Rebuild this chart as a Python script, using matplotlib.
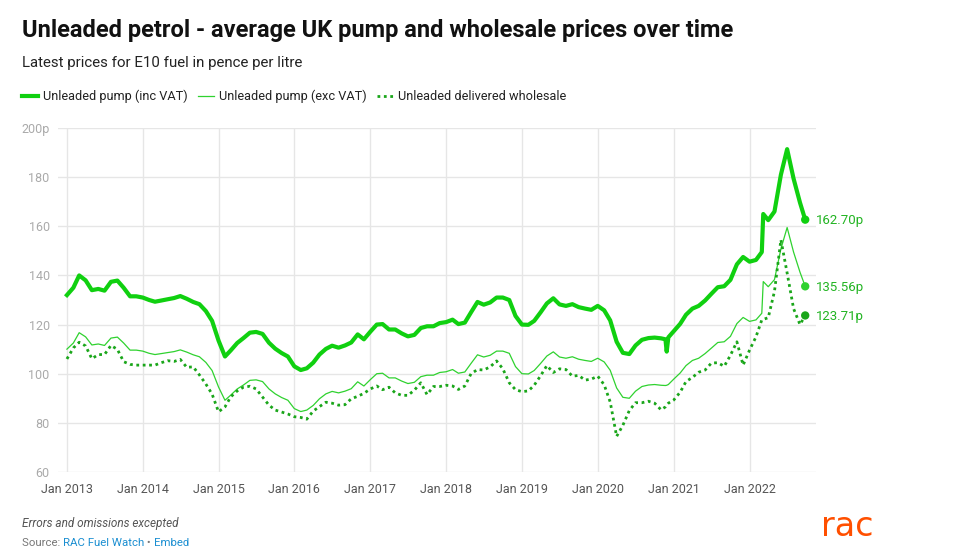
import pandas as pd
import matplotlib.pyplot as plt
from matplotlib.lines import Line2D

plt.rcParams['font.family'] = ['Roboto', 'DejaVu Sans']

# readings, mostly month starts plus a few sharp moves
dates = [
    '2013-01-01', '2013-02-01', '2013-03-01', '2013-04-01', '2013-05-01', '2013-06-01',
    '2013-07-01', '2013-08-01', '2013-09-01', '2013-10-01', '2013-11-01', '2013-12-01',
    '2014-01-01', '2014-02-01', '2014-03-01', '2014-04-01', '2014-05-01', '2014-06-01',
    '2014-07-01', '2014-08-01', '2014-09-01', '2014-10-01', '2014-11-01', '2014-12-01',
    '2015-01-01', '2015-02-01', '2015-03-01', '2015-04-01', '2015-05-01', '2015-06-01',
    '2015-07-01', '2015-08-01', '2015-09-01', '2015-10-01', '2015-11-01', '2015-12-01',
    '2016-01-01', '2016-02-01', '2016-03-01', '2016-04-01', '2016-05-01', '2016-06-01',
    '2016-07-01', '2016-08-01', '2016-09-01', '2016-10-01', '2016-11-01', '2016-12-01',
    '2017-01-01', '2017-02-01', '2017-03-01', '2017-04-01', '2017-05-01', '2017-06-01',
    '2017-07-01', '2017-08-01', '2017-09-01', '2017-10-01', '2017-11-01', '2017-12-01',
    '2018-01-01', '2018-02-01', '2018-03-01', '2018-04-01', '2018-05-01', '2018-06-01',
    '2018-07-01', '2018-08-01', '2018-09-01', '2018-10-01', '2018-11-01', '2018-12-01',
    '2019-01-01', '2019-02-01', '2019-03-01', '2019-04-01', '2019-05-01', '2019-06-01',
    '2019-07-01', '2019-08-01', '2019-09-01', '2019-10-01', '2019-11-01', '2019-12-01',
    '2020-01-01', '2020-02-01', '2020-03-01', '2020-04-01', '2020-05-01', '2020-06-01',
    '2020-07-01', '2020-08-01', '2020-09-01', '2020-10-01', '2020-11-01', '2020-11-22',
    '2020-11-28', '2020-12-06',
    '2021-01-01', '2021-02-01', '2021-03-01', '2021-04-01', '2021-05-01', '2021-06-01',
    '2021-07-01', '2021-08-01', '2021-09-01', '2021-10-01', '2021-11-01', '2021-12-01',
    '2022-01-01', '2022-02-01', '2022-03-01', '2022-03-08', '2022-04-01', '2022-05-01',
    '2022-06-01', '2022-07-01', '2022-08-01', '2022-09-01', '2022-09-26',
]

inc_vat = [
    132.0, 135.0, 140.0, 138.0, 134.0, 134.5, 133.8, 137.4, 137.9, 135.0, 131.5, 131.5,
    131.0, 130.0, 129.3, 129.8, 130.3, 130.8, 131.6, 130.5, 129.2, 128.3, 125.5, 121.5,
    113.5, 107.0, 109.5, 112.5, 114.5, 116.7, 117.0, 116.2, 112.6, 110.2, 108.4, 107.0,
    103.0, 101.5, 102.2, 104.5, 107.8, 110.1, 111.4, 110.6, 111.5, 112.7, 116.0, 114.0,
    117.1, 120.0, 120.2, 118.0, 118.0, 116.4, 115.2, 115.8, 118.6, 119.3, 119.3, 120.6,
    121.0, 122.0, 120.2, 120.8, 125.0, 129.2, 128.1, 129.0, 131.0, 131.0, 130.0, 123.5,
    120.0, 119.9, 121.5, 125.0, 128.6, 130.7, 128.2, 127.6, 128.3, 127.1, 126.5, 126.0,
    127.6, 125.8, 121.7, 113.0, 108.5, 108.0, 111.5, 113.8, 114.5, 114.7, 114.4, 114.0,
    109.0, 114.8,
    117.3, 120.3, 124.0, 126.5, 127.6, 129.8, 132.5, 135.2, 135.6, 138.2, 144.5, 147.5,
    145.6, 146.3, 149.5, 165.0, 162.5, 166.0, 181.0, 191.4, 179.4, 169.6, 162.70,
]

exc_vat = [
    110.0, 112.5, 116.7, 115.0, 111.7, 112.1, 111.5, 114.5, 114.9, 112.5, 109.6, 109.6,
    109.2, 108.3, 107.8, 108.2, 108.6, 109.0, 109.7, 108.8, 107.7, 106.9, 104.6, 101.3,
    94.6, 89.2, 91.3, 93.8, 95.4, 97.3, 97.5, 96.8, 93.8, 91.8, 90.3, 89.2,
    85.8, 84.6, 85.2, 87.1, 89.8, 91.8, 92.8, 92.2, 92.9, 93.9, 96.7, 95.0,
    97.6, 100.0, 100.2, 98.3, 98.3, 97.0, 96.0, 96.5, 98.8, 99.4, 99.4, 100.5,
    100.8, 101.7, 100.2, 100.7, 104.2, 107.7, 106.8, 107.5, 109.2, 109.2, 108.3, 102.9,
    100.0, 99.9, 101.3, 104.2, 107.2, 108.9, 106.8, 106.3, 106.9, 105.9, 105.4, 105.0,
    106.3, 104.8, 101.4, 94.2, 90.4, 90.0, 92.9, 94.8, 95.4, 95.6, 95.3, 95.2,
    95.3, 95.6,
    97.8, 100.3, 103.3, 105.4, 106.3, 108.2, 110.4, 112.7, 113.0, 115.2, 120.4, 122.9,
    121.3, 121.9, 124.6, 137.5, 135.4, 138.3, 150.8, 159.5, 149.5, 141.3, 135.56,
]

wholesale = [
    106.0, 110.5, 112.8, 111.3, 106.1, 107.8, 107.8, 111.5, 109.9, 104.9, 103.8, 103.5,
    103.5, 103.5, 103.5, 104.5, 105.3, 105.0, 105.8, 102.6, 102.8, 99.5, 95.8, 91.7,
    84.5, 86.5, 90.6, 93.0, 94.5, 94.9, 93.8, 90.5, 87.2, 85.2, 84.4, 83.6,
    82.5, 82.2, 81.5, 84.8, 86.6, 88.4, 88.0, 87.2, 87.4, 89.8, 90.8, 92.0,
    93.8, 95.0, 93.5, 94.5, 92.2, 91.2, 91.2, 93.3, 96.3, 91.5, 94.8, 94.8,
    95.3, 95.0, 93.6, 95.0, 100.0, 101.7, 101.5, 102.8, 105.2, 102.0, 96.3, 93.5,
    92.7, 93.0, 95.3, 99.2, 103.3, 100.5, 102.0, 101.7, 99.0, 99.3, 97.4, 97.8,
    99.0, 95.5, 88.5, 74.5, 79.0, 85.0, 88.2, 88.2, 88.8, 88.0, 85.3, 86.5,
    87.2, 88.0,
    89.3, 92.5, 96.8, 98.5, 100.6, 101.5, 104.3, 104.5, 103.0, 107.5, 113.0, 103.5,
    109.6, 115.0, 121.9, 122.1, 122.8, 133.5, 154.5, 141.0, 126.5, 120.0, 123.71,
]

series_names = ['Unleaded pump (inc VAT)', 'Unleaded pump (exc VAT)', 'Unleaded delivered wholesale']
year_ticks = ['2013', '2014', '2015', '2016', '2017', '2018', '2019', '2020', '2021', '2022']
y_ticks = [60, 80, 100, 120, 140, 160, 180, 200]

W, H = 960, 556
c_inc = '#10d010'
c_exc = '#2fd22f'
c_whs = '#1aa61a'
c_lab = '#22b422'


def fx(x):
    return x / W


def fy(y):
    return 1 - y / H


t = pd.to_datetime(dates)

fig = plt.figure(figsize=(9.6, 5.56), dpi=100)
ax = fig.add_axes([fx(58), fy(472), fx(816 - 58), (472 - 128) / H])

ax.plot(t, inc_vat, color=c_inc, lw=3.0, solid_joinstyle='round', zorder=4)
ax.plot(t, exc_vat, color=c_exc, lw=0.9, zorder=3)
ax.plot(t, wholesale, color=c_whs, lw=2.0, linestyle=(0, (1, 1.3)), dash_capstyle='butt', zorder=3)

ax.scatter([t[-1]] * 3, [inc_vat[-1], exc_vat[-1], wholesale[-1]],
           color=[c_inc, c_exc, c_whs], s=36, zorder=5, linewidths=0)
for v in [inc_vat[-1], exc_vat[-1], wholesale[-1]]:
    ax.annotate(f'{v:.2f}p', (t[-1], v), xytext=(11, -1), textcoords='offset pixels',
                va='center', ha='left', fontsize=9.5, color=c_lab)

ax.set_xlim(pd.Timestamp('2013-01-01') - pd.Timedelta(days=43), pd.Timestamp('2022-11-17'))
ax.set_ylim(60, 200)
ax.set_xticks(pd.to_datetime([y + '-01-01' for y in year_ticks]))
ax.set_xticklabels(['Jan ' + y for y in year_ticks], fontsize=9, color='#555555')
ax.set_yticks(y_ticks)
ax.set_yticklabels([f'{v}p' if v == 200 else str(v) for v in y_ticks], fontsize=9, color='#aaaaaa')
ax.tick_params(axis='both', length=0)
ax.tick_params(axis='x', pad=8)
ax.tick_params(axis='y', pad=6)
ax.grid(True, color='#e6e6e6', lw=1)
for s in ax.spines.values():
    s.set_visible(False)
ax.set_axisbelow(True)

fig.text(fx(22), fy(31), 'Unleaded petrol - average UK pump and wholesale prices over time',
         fontsize=17, fontweight='bold', color='#111111', va='center')
fig.text(fx(22), fy(63), 'Latest prices for E10 fuel in pence per litre',
         fontsize=10.8, color='#222222', va='center')

# legend row
leg = [(22, 38, 43, c_inc, 3.0, '-'), (198, 214, 219, c_exc, 0.9, '-'),
       (377, 393, 398, c_whs, 2.0, (0, (1, 1.3)))]
for (x0, x1, xt, col, lw, ls), name in zip(leg, series_names):
    fig.add_artist(Line2D([fx(x0), fx(x1)], [fy(96), fy(96)], color=col, lw=lw, ls=ls,
                          transform=fig.transFigure))
    fig.text(fx(xt), fy(96), name, fontsize=9.2, color='#222222', va='center')

fig.text(fx(22), fy(523), 'Errors and omissions excepted', fontsize=8.5,
         style='italic', color='#555555', va='center')

renderer = fig.canvas.get_renderer()
x = fx(22)
for part, col in [('Source: ', '#777777'), ('RAC Fuel Watch', '#1a8ed1'),
                  (' \u2022 ', '#777777'), ('Embed', '#1a8ed1')]:
    tx = fig.text(x, fy(543), part, fontsize=8.2, color=col, va='center')
    bb = tx.get_window_extent(renderer)
    x += bb.width / W

# logo stand-in
fig.text(fx(821), fy(526), 'rac', fontsize=24, family='DejaVu Sans', color='#ff4f00',
         va='center', ha='left')

fig.savefig('out.png', dpi=100, facecolor='white')
